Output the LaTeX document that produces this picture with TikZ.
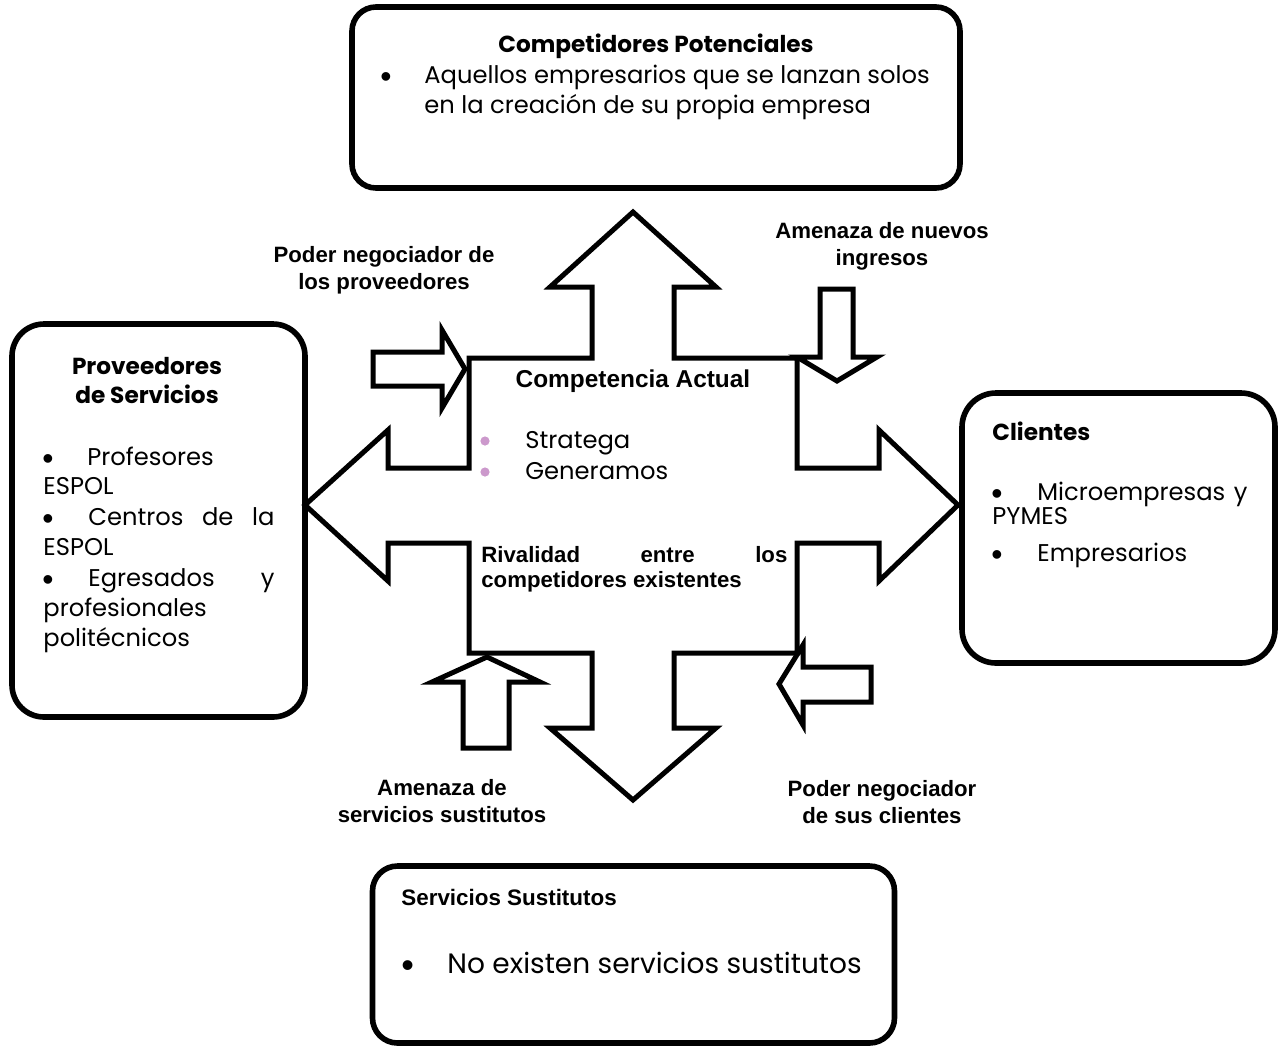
\documentclass[tikz,border=0pt]{standalone}
\usepackage{fontspec}
\setmainfont{Poppins}
\newfontfamily\arialf{Liberation Sans}
\definecolor{bulpink}{RGB}{204,153,204}
\tikzset{
  blockarrow/.style={draw=black, line width=2.5pt, line join=miter, miter limit=20},
  rbox/.style={draw=black, line width=2.8pt, rectangle, inner sep=0pt},
  lbl/.style={font=\arialf\bfseries\fontsize{11.1}{13.5}\selectfont, align=center, inner sep=0pt},
  gt/.style={font=\fontsize{12.1}{15}\selectfont, inner sep=0pt, anchor=mid west},
  gtb/.style={inner sep=0pt, anchor=mid west, font=\bfseries\fontsize{11.6}{15}\selectfont},
  bul/.style={font=\arialf\fontsize{16}{15}\selectfont, inner sep=0pt, anchor=mid west},
  pbul/.style={circle, fill=bulpink, inner sep=0pt, minimum size=4.6pt},
}
\begin{document}
\begin{tikzpicture}[x=0.5pt,y=-0.5pt]
\useasboundingbox (0,0) rectangle (1281,1046);

% boxes
\node[rbox, rounded corners=12pt, minimum width=304pt, minimum height=90.5pt] (pot) at (656,97.5) {};
\node[rbox, rounded corners=16pt, minimum width=146.5pt, minimum height=196.5pt] (prov) at (158.5,520.5) {};
\node[rbox, rounded corners=17pt, minimum width=156.5pt, minimum height=135pt] (cli) at (1118.5,528) {};
\node[rbox, rounded corners=12.5pt, minimum width=261pt, minimum height=88.5pt] (sus) at (633.5,954.5) {};

% big four-way arrow
\draw[blockarrow] (633,212) -- (716,287) -- (674,287) -- (674,358) -- (797,358) -- (797,468) -- (879,468) -- (879,430) -- (958,505) -- (879,581) -- (879,543) -- (797,543) -- (797,653) -- (674,653) -- (674,728) -- (716,728) -- (633,800) -- (550,728) -- (592,728) -- (592,653) -- (469,653) -- (469,543) -- (388,543) -- (388,581) -- (305,505) -- (388,430) -- (388,468) -- (469,468) -- (469,358) -- (592,358) -- (592,287) -- (550,287) -- cycle;

% small arrows
\draw[blockarrow] (373,352) -- (442,352) -- (442,330) -- (465,369) -- (442,408) -- (442,386) -- (373,386) -- cycle;
\draw[blockarrow] (820,289) -- (853,289) -- (853,357) -- (877,357) -- (837,381) -- (797,357) -- (820,357) -- cycle;
\draw[blockarrow] (463,748) -- (463,682) -- (432,682) -- (487,657) -- (540,682) -- (509,682) -- (509,748) -- cycle;
\draw[blockarrow] (871,667) -- (803,667) -- (803,645) -- (779,684) -- (803,725) -- (803,702) -- (871,702) -- cycle;

% top box text
\node[gtb, anchor=mid] (potT) at (656,47) {Competidores Potenciales};
\node[bul] (potB) at (380,82) {•};
\node[gt] (potL1) at (424,78) {Aquellos empresarios que se lanzan solos};
\node[gt] (potL2) at (424,108) {en la creación de su propia empresa};

% left box text
\node[gtb, anchor=mid] (provT1) at (147,369) {Proveedores};
\node[gtb, anchor=mid] (provT2) at (147,398) {de Servicios};
\node[bul] (pb1) at (42,464) {•};
\node[gt] (pl1) at (87,460) {Profesores};
\node[gt] (pl2) at (43,489) {ESPOL};
\node[bul] (pb2) at (42,524) {•};
\node[gt] (pl3) at (88,520) {\makebox[93pt][s]{Centros de la}};
\node[gt] (pl4) at (43,550) {ESPOL};
\node[bul] (pb3) at (42,585) {•};
\node[gt] (pl5) at (88,581) {\makebox[93pt][s]{Egresados y}};
\node[gt] (pl6) at (43,611) {profesionales};
\node[gt] (pl7) at (43,641) {politécnicos};

% right box text
\node[gtb] (cliT) at (992,435) {Clientes};
\node[bul] (cb1) at (991,499) {•};
\node[gt] (cl1) at (1037,495) {\makebox[105pt][s]{Microempresas y}};
\node[gt] (cl2) at (992,519) {PYMES};
\node[bul] (cb2) at (991,560) {•};
\node[gt] (cl3) at (1037,556) {Empresarios};

% bottom box text
\node[inner sep=0pt, anchor=mid west, font=\arialf\bfseries\fontsize{11.2}{13}\selectfont] (susT) at (401,900) {Servicios Sustitutos};
\node[bul, font=\arialf\fontsize{18}{17}\selectfont] (sb) at (401,972) {•};
\node[gt, font=\fontsize{14}{17}\selectfont] (sl) at (447,968) {No existen servicios sustitutos};

% center text
\node[inner sep=0pt, font=\arialf\bfseries\fontsize{12.2}{14}\selectfont] (ca) at (633,381) {Competencia Actual};
\node[pbul] (pk1) at (485,441) {};
\node[gt] (s1) at (525,443) {Stratega};
\node[pbul] (pk2) at (485,472) {};
\node[gt] (s2) at (525,474) {Generamos};
\node[lbl, anchor=mid west] (riv1) at (481,557) {\makebox[153pt][s]{Rivalidad entre los}};
\node[lbl, anchor=mid west] (riv2) at (481,582) {competidores existentes};

% force labels
\node[lbl] (l1) at (384,270) {Poder negociador de\\los proveedores};
\node[lbl] (l2) at (882,246) {Amenaza de nuevos\\ingresos};
\node[lbl] (l3) at (442,801) {Amenaza de\\servicios sustitutos};
\node[lbl] (l4) at (882,802) {Poder negociador\\de sus clientes};
\end{tikzpicture}
\end{document}
